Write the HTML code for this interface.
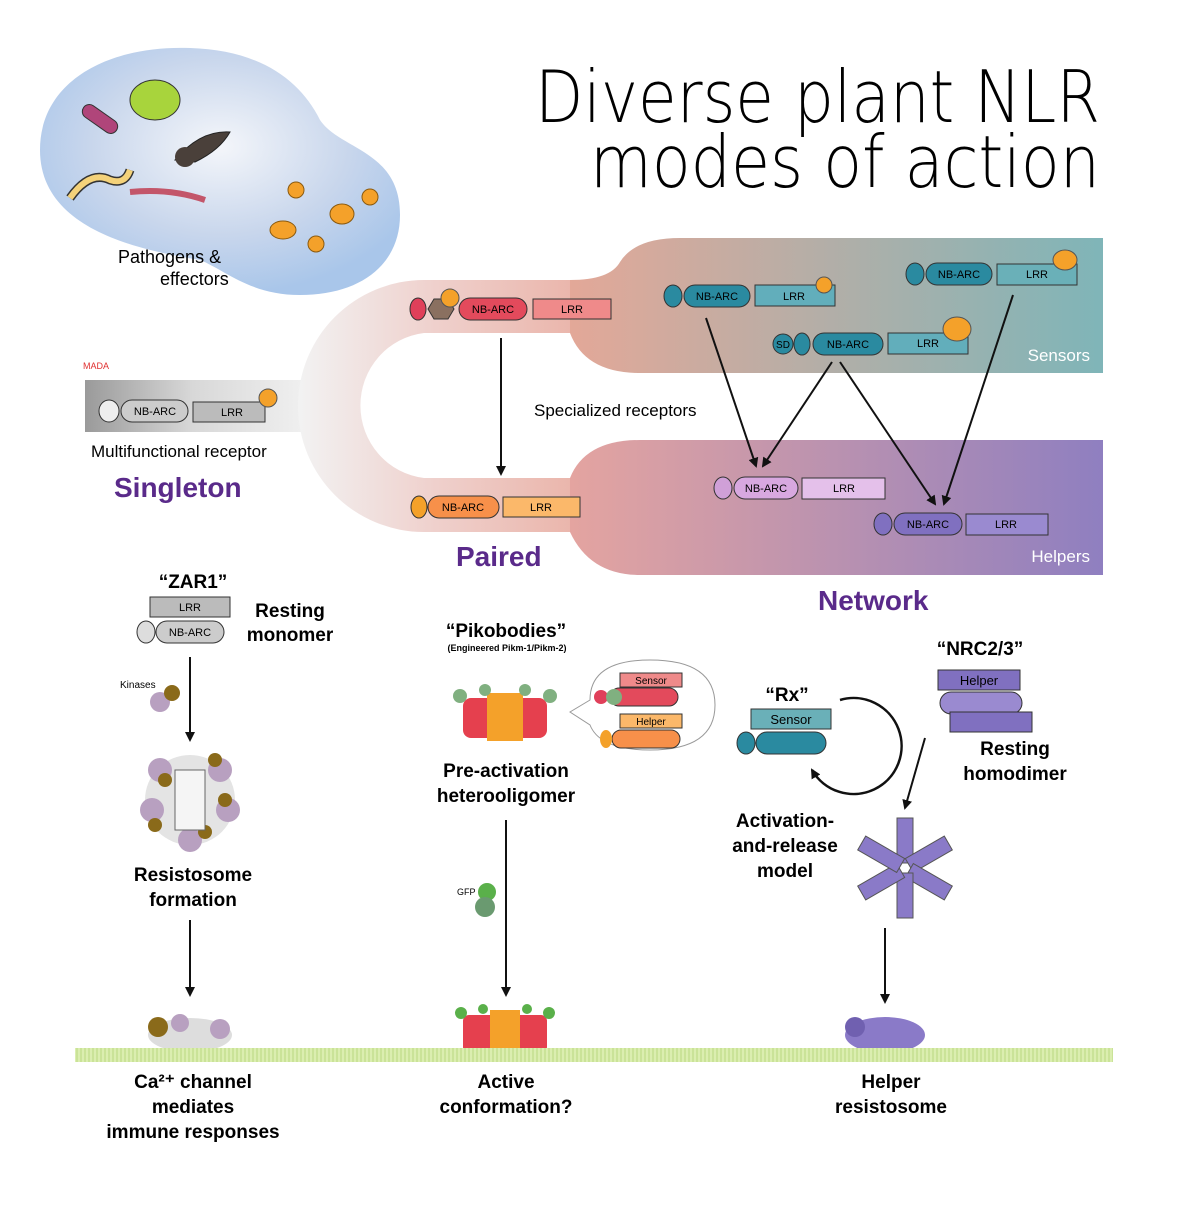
<!DOCTYPE html>
<html><head><meta charset="utf-8"><style>
body{margin:0;background:#fff}
svg text{font-family:"Liberation Sans",sans-serif}
svg text.t{font-family:"DejaVu Sans","Liberation Sans",sans-serif;font-weight:200}
</style></head><body>
<svg width="1179" height="1200" viewBox="0 0 1179 1200" xmlns="http://www.w3.org/2000/svg">
<defs>
<linearGradient id="gU" x1="300" y1="0" x2="640" y2="0" gradientUnits="userSpaceOnUse"><stop offset="0" stop-color="#f2f2f2"/><stop offset="0.4" stop-color="#efd0cc"/><stop offset="1" stop-color="#e8a99c"/></linearGradient>
<linearGradient id="gS" x1="570" y1="0" x2="1103" y2="0" gradientUnits="userSpaceOnUse"><stop offset="0" stop-color="#e3a898"/><stop offset="1" stop-color="#7fb5b8"/></linearGradient>
<linearGradient id="gH" x1="570" y1="0" x2="1103" y2="0" gradientUnits="userSpaceOnUse"><stop offset="0" stop-color="#e4a4a0"/><stop offset="1" stop-color="#8f7fc0"/></linearGradient>
<linearGradient id="gL" x1="85" y1="0" x2="300" y2="0" gradientUnits="userSpaceOnUse"><stop offset="0" stop-color="#9a9a9a"/><stop offset="0.5" stop-color="#d8d8d8"/><stop offset="1" stop-color="#efefef"/></linearGradient>
<radialGradient id="gB" cx="0.5" cy="0.4" r="0.6"><stop offset="0" stop-color="#f4f6fa"/><stop offset="0.6" stop-color="#c8d6ec"/><stop offset="1" stop-color="#a9c6ea"/></radialGradient>
<marker id="ar" markerWidth="10" markerHeight="10" refX="8" refY="5" orient="auto" markerUnits="userSpaceOnUse"><path d="M0,0 L10,5 L0,10 z" fill="#111"/></marker>
<pattern id="mem" width="4" height="14" patternUnits="userSpaceOnUse"><rect width="4" height="14" fill="#dbeeb0"/><line x1="1" y1="0" x2="1" y2="14" stroke="#b8d880" stroke-width="1"/></pattern>
</defs>

<path d="M40,150 C40,80 110,45 190,48 C260,50 300,80 320,120 C340,150 400,150 400,215 C400,265 360,295 300,295 C250,295 225,270 200,260 C140,250 40,230 40,150 Z" fill="url(#gB)"/>
<text x="118" y="263" font-size="18">Pathogens &amp;</text>
<text x="160" y="285" font-size="18">effectors</text>
<ellipse cx="155" cy="100" rx="25" ry="20" fill="#a8d43c" stroke="#333"/>
<rect x="80" y="112" width="40" height="14" rx="7" fill="#b0457a" stroke="#333" transform="rotate(35 100 119)"/>
<path d="M175,160 Q200,130 230,132 Q220,150 195,162 Z" fill="#4a403a" stroke="#222"/>
<circle cx="185" cy="157" r="10" fill="#4a403a"/>
<path d="M70,198 Q90,170 110,180 Q125,185 130,170" stroke="#333" stroke-width="9" fill="none"/>
<path d="M70,198 Q90,170 110,180 Q125,185 130,170" stroke="#f4d27a" stroke-width="6" fill="none"/>
<path d="M130,192 Q170,188 205,200" stroke="#c3566a" stroke-width="6" fill="none"/>
<g fill="#f4a12a" stroke="#8a5a10" stroke-width="1"><circle cx="296" cy="190" r="8"/><circle cx="370" cy="197" r="8"/><circle cx="316" cy="244" r="8"/><ellipse cx="283" cy="230" rx="13" ry="9"/><ellipse cx="342" cy="214" rx="12" ry="10"/></g>

<text class="t" x="535" y="122" font-size="72" textLength="565" lengthAdjust="spacingAndGlyphs">Diverse plant NLR</text>
<text class="t" x="590" y="187" font-size="72" textLength="510" lengthAdjust="spacingAndGlyphs">modes of action</text>

<rect x="85" y="380" width="240" height="52" fill="url(#gL)"/>
<path d="M424,280 L620,280 L620,333 L424,333 A72,73 0 0 0 424,478 L620,478 L620,532 L424,532 A126,126 0 0 1 424,280 Z" fill="url(#gU)"/>
<path d="M570,280 Q610,280 620,262 Q635,238 680,238 L1103,238 L1103,373 L640,373 Q585,373 570,333 Z" fill="url(#gS)"/>
<path d="M570,478 Q585,440 640,440 L1103,440 L1103,575 L640,575 Q590,575 570,532 Z" fill="url(#gH)"/>
<text x="1090" y="361" font-size="17" fill="#fff" text-anchor="end">Sensors</text>
<text x="1090" y="562" font-size="17" fill="#fff" text-anchor="end">Helpers</text>

<g font-size="11" text-anchor="middle" stroke-width="1">
<text x="83" y="369" font-size="9" fill="#e03030" text-anchor="start">MADA</text>
<ellipse cx="109" cy="411" rx="10" ry="11" fill="#eee" stroke="#333"/>
<rect x="121" y="400" width="67" height="22" rx="11" fill="#ccc" stroke="#333"/><text x="155" y="415">NB-ARC</text>
<rect x="193" y="402" width="72" height="20" fill="#bbb" stroke="#333"/><text x="232" y="416">LRR</text>
<circle cx="268" cy="398" r="9" fill="#f4a12a" stroke="#555"/>
<ellipse cx="418" cy="309" rx="8" ry="11" fill="#e0405a" stroke="#333"/>
<path d="M428,309 l6,-10 h14 l6,10 l-6,10 h-14 z" fill="#8a7060" stroke="#333"/>
<circle cx="450" cy="298" r="9" fill="#f4a12a" stroke="#555"/>
<rect x="459" y="298" width="68" height="22" rx="11" fill="#e34a5c" stroke="#333"/><text x="493" y="313">NB-ARC</text>
<rect x="533" y="299" width="78" height="20" fill="#ef8a8a" stroke="#333"/><text x="572" y="313">LRR</text>
<ellipse cx="419" cy="507" rx="8" ry="11" fill="#f4a12a" stroke="#333"/>
<rect x="428" y="496" width="71" height="22" rx="11" fill="#f7904a" stroke="#333"/><text x="463" y="511">NB-ARC</text>
<rect x="503" y="497" width="77" height="20" fill="#fbb86a" stroke="#333"/><text x="541" y="511">LRR</text>
<ellipse cx="673" cy="296" rx="9" ry="11" fill="#2a8aa0" stroke="#333"/>
<rect x="684" y="285" width="66" height="22" rx="11" fill="#2a8aa0" stroke="#333"/><text x="717" y="300">NB-ARC</text>
<rect x="755" y="285" width="80" height="21" fill="#62aebb" stroke="#333"/><text x="794" y="300">LRR</text>
<circle cx="824" cy="285" r="8" fill="#f4a12a" stroke="#555"/>
<ellipse cx="915" cy="274" rx="9" ry="11" fill="#2a8aa0" stroke="#333"/>
<rect x="926" y="263" width="66" height="22" rx="11" fill="#2a8aa0" stroke="#333"/><text x="959" y="278">NB-ARC</text>
<rect x="997" y="264" width="80" height="21" fill="#6ab0b8" stroke="#333"/><text x="1037" y="278">LRR</text>
<ellipse cx="1065" cy="260" rx="12" ry="10" fill="#f4a12a" stroke="#555"/>
<circle cx="783" cy="344" r="10" fill="#2a8aa0" stroke="#333"/><text x="783" y="348" font-size="10">SD</text>
<ellipse cx="802" cy="344" rx="8" ry="11" fill="#2a8aa0" stroke="#333"/>
<rect x="813" y="333" width="70" height="22" rx="11" fill="#2a8aa0" stroke="#333"/><text x="848" y="348">NB-ARC</text>
<rect x="888" y="333" width="80" height="21" fill="#62aebb" stroke="#333"/><text x="928" y="347">LRR</text>
<ellipse cx="957" cy="329" rx="14" ry="12" fill="#f4a12a" stroke="#555"/>
<ellipse cx="723" cy="488" rx="9" ry="11" fill="#d0a0d8" stroke="#333"/>
<rect x="734" y="477" width="64" height="22" rx="11" fill="#d8a8e0" stroke="#333"/><text x="766" y="492">NB-ARC</text>
<rect x="802" y="478" width="83" height="21" fill="#e4c0ea" stroke="#333"/><text x="844" y="492">LRR</text>
<ellipse cx="883" cy="524" rx="9" ry="11" fill="#8070c0" stroke="#333"/>
<rect x="894" y="513" width="68" height="22" rx="11" fill="#8070c0" stroke="#333"/><text x="928" y="528">NB-ARC</text>
<rect x="966" y="514" width="82" height="21" fill="#9a8ad0" stroke="#333"/><text x="1006" y="528">LRR</text>
</g>

<g stroke="#111" stroke-width="2" fill="none" marker-end="url(#ar)">
<line x1="501" y1="338" x2="501" y2="474"/>
<line x1="706" y1="318" x2="756" y2="466"/>
<line x1="832" y1="362" x2="763" y2="466"/>
<line x1="840" y1="362" x2="935" y2="504"/>
<line x1="1013" y1="295" x2="944" y2="504"/>
</g>
<text x="534" y="416" font-size="17">Specialized receptors</text>
<text x="91" y="457" font-size="17">Multifunctional receptor</text>
<text x="114" y="497" font-size="28" fill="#5a2a8a" font-weight="bold">Singleton</text>
<text x="456" y="566" font-size="28" fill="#5a2a8a" font-weight="bold">Paired</text>
<text x="818" y="610" font-size="28" fill="#5a2a8a" font-weight="bold">Network</text>

<text x="193" y="588" font-size="19" font-weight="bold" text-anchor="middle">“ZAR1”</text>
<rect x="150" y="597" width="80" height="20" fill="#bbb" stroke="#333"/><text x="190" y="611" font-size="11" text-anchor="middle">LRR</text>
<ellipse cx="146" cy="632" rx="9" ry="11" fill="#ddd" stroke="#333"/>
<rect x="156" y="621" width="68" height="22" rx="11" fill="#ccc" stroke="#333"/><text x="190" y="636" font-size="11" text-anchor="middle">NB-ARC</text>
<text x="290" y="617" font-size="19" font-weight="bold" text-anchor="middle">Resting</text>
<text x="290" y="641" font-size="19" font-weight="bold" text-anchor="middle">monomer</text>
<text x="120" y="688" font-size="10">Kinases</text>
<circle cx="160" cy="702" r="10" fill="#b8a0c0"/><circle cx="172" cy="693" r="8" fill="#8a6a1a"/>
<g transform="translate(190,800)"><circle r="45" fill="#e4e4e4"/>
<g fill="#b8a0c0"><circle cx="-30" cy="-30" r="12"/><circle cx="30" cy="-30" r="12"/><circle cx="-38" cy="10" r="12"/><circle cx="38" cy="10" r="12"/><circle cx="0" cy="40" r="12"/></g>
<g fill="#8a6a1a"><circle cx="-25" cy="-20" r="7"/><circle cx="25" cy="-40" r="7"/><circle cx="-35" cy="25" r="7"/><circle cx="35" cy="0" r="7"/><circle cx="15" cy="32" r="7"/></g>
<rect x="-15" y="-30" width="30" height="60" fill="#f5f5f5" stroke="#666"/></g>
<text x="193" y="881" font-size="19" font-weight="bold" text-anchor="middle">Resistosome</text>
<text x="193" y="906" font-size="19" font-weight="bold" text-anchor="middle">formation</text>
<text x="193" y="1088" font-size="19" font-weight="bold" text-anchor="middle">Ca²⁺ channel</text>
<text x="193" y="1113" font-size="19" font-weight="bold" text-anchor="middle">mediates</text>
<text x="193" y="1138" font-size="19" font-weight="bold" text-anchor="middle">immune responses</text>

<text x="506" y="637" font-size="19" font-weight="bold" text-anchor="middle">“Pikobodies”</text>
<text x="507" y="651" font-size="9" font-weight="bold" text-anchor="middle">(Engineered Pikm-1/Pikm-2)</text>
<g transform="translate(505,718)">
<rect x="-42" y="-20" width="84" height="40" rx="8" fill="#e5404e"/>
<rect x="-18" y="-25" width="36" height="48" fill="#f4a12a"/>
<g fill="#80b080"><circle cx="-45" cy="-22" r="7"/><circle cx="45" cy="-22" r="7"/><circle cx="-20" cy="-28" r="6"/><circle cx="20" cy="-28" r="6"/></g></g>
<path d="M590,700 Q590,660 650,660 Q715,660 715,705 Q715,750 650,750 Q600,750 590,725 L570,712 Z" fill="#fff" stroke="#999"/>
<rect x="620" y="673" width="62" height="14" fill="#ef8a8a" stroke="#333"/><text x="651" y="684" font-size="10" text-anchor="middle">Sensor</text>
<rect x="610" y="688" width="68" height="18" rx="9" fill="#e34a5c" stroke="#333"/>
<circle cx="601" cy="697" r="7" fill="#e0405a"/><circle cx="614" cy="697" r="8" fill="#80b080"/>
<rect x="620" y="714" width="62" height="14" fill="#fbb86a" stroke="#333"/><text x="651" y="725" font-size="10" text-anchor="middle">Helper</text>
<rect x="612" y="730" width="68" height="18" rx="9" fill="#f7904a" stroke="#333"/><ellipse cx="606" cy="739" rx="6" ry="9" fill="#f4a12a"/>
<text x="506" y="777" font-size="19" font-weight="bold" text-anchor="middle">Pre-activation</text>
<text x="506" y="802" font-size="19" font-weight="bold" text-anchor="middle">heterooligomer</text>
<text x="457" y="895" font-size="9">GFP</text>
<circle cx="487" cy="892" r="9" fill="#5ab04a"/><circle cx="485" cy="907" r="10" fill="#6a9a70"/>
<g transform="translate(505,1035)"><rect x="-42" y="-20" width="84" height="38" rx="6" fill="#e5404e"/><rect x="-15" y="-25" width="30" height="45" fill="#f4a12a"/>
<g fill="#5ab04a"><circle cx="-44" cy="-22" r="6"/><circle cx="44" cy="-22" r="6"/><circle cx="-22" cy="-26" r="5"/><circle cx="22" cy="-26" r="5"/></g></g>
<text x="506" y="1088" font-size="19" font-weight="bold" text-anchor="middle">Active</text>
<text x="506" y="1113" font-size="19" font-weight="bold" text-anchor="middle">conformation?</text>

<text x="787" y="701" font-size="19" font-weight="bold" text-anchor="middle">“Rx”</text>
<rect x="751" y="709" width="80" height="20" fill="#6ab0b8" stroke="#333"/><text x="791" y="724" font-size="13" text-anchor="middle">Sensor</text>
<ellipse cx="746" cy="743" rx="9" ry="11" fill="#2a8aa0" stroke="#333"/>
<rect x="756" y="732" width="70" height="22" rx="11" fill="#2a8aa0" stroke="#333"/>
<path d="M840,700 A48,48 0 1 1 812,770" stroke="#111" stroke-width="2.5" fill="none" marker-end="url(#ar)"/>
<text x="785" y="827" font-size="19" font-weight="bold" text-anchor="middle">Activation-</text>
<text x="785" y="852" font-size="19" font-weight="bold" text-anchor="middle">and-release</text>
<text x="785" y="877" font-size="19" font-weight="bold" text-anchor="middle">model</text>

<text x="980" y="655" font-size="19" font-weight="bold" text-anchor="middle">“NRC2/3”</text>
<rect x="938" y="670" width="82" height="20" fill="#8070c0" stroke="#333"/><text x="979" y="685" font-size="13" text-anchor="middle">Helper</text>
<rect x="940" y="692" width="82" height="22" rx="11" fill="#9a8ad0" stroke="#333"/>
<rect x="950" y="712" width="82" height="20" fill="#8070c0" stroke="#333"/>
<text x="1015" y="755" font-size="19" font-weight="bold" text-anchor="middle">Resting</text>
<text x="1015" y="780" font-size="19" font-weight="bold" text-anchor="middle">homodimer</text>
<g transform="translate(905,868)" fill="#8a7ac8" stroke="#555">
<rect x="-8" y="-50" width="16" height="45"/>
<rect x="-8" y="-50" width="16" height="45" transform="rotate(60)"/>
<rect x="-8" y="-50" width="16" height="45" transform="rotate(120)"/>
<rect x="-8" y="-50" width="16" height="45" transform="rotate(180)"/>
<rect x="-8" y="-50" width="16" height="45" transform="rotate(240)"/>
<rect x="-8" y="-50" width="16" height="45" transform="rotate(300)"/></g>
<g transform="translate(885,1035)"><ellipse rx="40" ry="18" fill="#8a7ac8"/><circle cx="-30" cy="-8" r="10" fill="#7060b0"/></g>
<text x="891" y="1088" font-size="19" font-weight="bold" text-anchor="middle">Helper</text>
<text x="891" y="1113" font-size="19" font-weight="bold" text-anchor="middle">resistosome</text>

<g transform="translate(190,1035)"><ellipse rx="42" ry="17" fill="#ddd"/><circle cx="-32" cy="-8" r="10" fill="#8a6a1a"/><circle cx="30" cy="-6" r="10" fill="#b8a0c0"/><circle cx="-10" cy="-12" r="9" fill="#b8a0c0"/></g>

<rect x="75" y="1048" width="1038" height="14" fill="url(#mem)"/>

<g stroke="#111" stroke-width="2" fill="none" marker-end="url(#ar)">
<line x1="190" y1="657" x2="190" y2="740"/>
<line x1="190" y1="920" x2="190" y2="995"/>
<line x1="506" y1="820" x2="506" y2="995"/>
<line x1="925" y1="738" x2="905" y2="808"/>
<line x1="885" y1="928" x2="885" y2="1002"/>
</g>
</svg>
</body></html>
